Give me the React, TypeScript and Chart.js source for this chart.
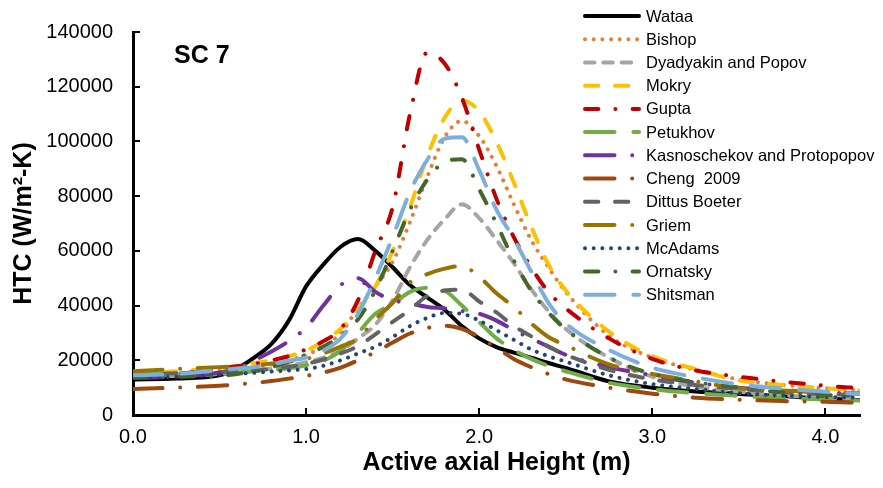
import { useEffect, useRef } from 'react';
import { Chart, registerables } from 'chart.js';

Chart.register(...registerables);

const FONT = '"Liberation Sans", Arial, Helvetica, sans-serif';

// Active axial height (m)
const X = [0, 0.25, 0.5, 0.6, 0.7, 0.8, 0.9, 1.0, 1.1, 1.2, 1.3, 1.4, 1.5, 1.6, 1.7, 1.8, 1.9, 2.0, 2.1, 2.2, 2.3, 2.4, 2.5, 2.75, 3.0, 3.25, 3.5, 3.75, 4.0, 4.2];

// HTC (W/m²-K) per correlation
const WATAA = [13000, 13300, 14500, 17000, 21000, 26000, 34500, 47000, 55000, 61500, 64300, 60000, 54000, 47500, 43000, 38500, 32500, 28000, 24800, 22800, 21000, 19000, 17200, 12300, 10000, 8600, 7700, 6900, 5900, 5500];
const BISHOP = [14500, 15000, 16200, 16800, 17500, 18500, 20000, 22000, 25000, 30000, 39000, 47000, 56000, 70500, 87000, 101500, 107500, 102000, 91000, 77000, 64000, 54000, 45000, 29000, 21000, 16500, 13000, 11000, 9800, 9000];
const DYADYAKIN = [14000, 14300, 15000, 15500, 16200, 17000, 18000, 19300, 21000, 23500, 28000, 33000, 42000, 54000, 64000, 71500, 77000, 72000, 64000, 55500, 46000, 38000, 31500, 21000, 14000, 10300, 8500, 7200, 6300, 5800];
const MOKRY = [15000, 16000, 17300, 18000, 19000, 20000, 21500, 23500, 27000, 31500, 38500, 47000, 60000, 76000, 94500, 108600, 115000, 111000, 99800, 85000, 69000, 55000, 45500, 30500, 21500, 16800, 12600, 11000, 9800, 8900];
const GUPTA = [14500, 15000, 17000, 17800, 18700, 20000, 21500, 24000, 27000, 31500, 42000, 60000, 76000, 110000, 132500, 128500, 116000, 97000, 79000, 65000, 54000, 45000, 39000, 28000, 20500, 16300, 14000, 12200, 10700, 9800];
const PETUKHOV = [15000, 15000, 15200, 15500, 16000, 16500, 17100, 18200, 19800, 23500, 30000, 37000, 40500, 45000, 46500, 45500, 40000, 34000, 28000, 23800, 20500, 18000, 16000, 11800, 9500, 8000, 7000, 6200, 5700, 5300];
const KASNOSCHEKOV = [13500, 14000, 15500, 17000, 20000, 23200, 27000, 32000, 40000, 47500, 50000, 45000, 42000, 40800, 39500, 39000, 38000, 37000, 34500, 31000, 28000, 25000, 22000, 17500, 14500, 11800, 10000, 9000, 8300, 7700];
const CHENG = [9500, 10000, 10700, 11200, 11700, 12400, 13300, 14300, 15500, 17300, 20000, 23000, 26500, 29800, 31800, 32600, 31500, 28500, 24500, 20500, 17500, 15000, 13000, 10000, 7800, 6300, 5600, 5100, 4800, 4500];
const DITTUS = [14500, 15300, 15800, 16000, 16300, 16800, 17600, 18700, 20300, 22500, 25200, 29500, 34000, 38500, 43500, 45500, 45800, 41500, 37500, 32500, 28800, 25000, 22000, 16500, 13000, 11000, 9500, 8400, 7600, 7300];
const GRIEM = [16000, 16800, 17500, 17900, 18200, 18800, 19500, 20500, 22500, 25000, 28000, 35000, 41000, 48500, 51500, 53500, 54500, 50500, 44500, 39500, 33500, 28500, 25500, 18500, 15000, 12300, 9800, 9000, 8300, 7900];
const MCADAMS = [13500, 14000, 14700, 15100, 15400, 15900, 16300, 16800, 18000, 20000, 22500, 25000, 28500, 32500, 35500, 37300, 37000, 34500, 31000, 27500, 24000, 21500, 19500, 14500, 11300, 9500, 8000, 7100, 6600, 6300];
const ORNATSKY = [13800, 14000, 14300, 15000, 16000, 17500, 19500, 22000, 25000, 29000, 35000, 45500, 60000, 75000, 86000, 92500, 93500, 82500, 70000, 56500, 45500, 37500, 31300, 21000, 15000, 12000, 10000, 8300, 7300, 6900];
const SHITSMAN = [14500, 15000, 16400, 17000, 17500, 18500, 19800, 21000, 23500, 28000, 37000, 50000, 65000, 81500, 93300, 101000, 101500, 89500, 75000, 64500, 52500, 41000, 33500, 23800, 17300, 13800, 11200, 9700, 8500, 7700];

const NAMES = ['Wataa', 'Bishop', 'Dyadyakin and Popov', 'Mokry', 'Gupta', 'Petukhov', 'Kasnoschekov and Protopopov', 'Cheng  2009', 'Dittus Boeter', 'Griem', 'McAdams', 'Ornatsky', 'Shitsman'];
const VALUES = [WATAA, BISHOP, DYADYAKIN, MOKRY, GUPTA, PETUKHOV, KASNOSCHEKOV, CHENG, DITTUS, GRIEM, MCADAMS, ORNATSKY, SHITSMAN];
const COLORS = ['#000000', '#ED7D31', '#A5A5A5', '#FFC000', '#C00000', '#70AD47', '#7030A0', '#9E480E', '#636363', '#997300', '#264478', '#43682B', '#7CAFDD'];

const DOT = [0.01, 8.67];
const SYS_DASH = [9.5, 8.8];
const DASH = [13.4, 16.6];
const DASH_DOT = [13.4, 17, 0.01, 17.2];
const LONG_DASH = [29.5, 18.9];
const LONG_DASH_DOT = [29.5, 17.7, 0.01, 17.7];
const DASHES = [[], DOT, SYS_DASH, DASH, DASH_DOT, LONG_DASH, LONG_DASH_DOT, LONG_DASH_DOT, DASH, LONG_DASH_DOT, DOT, DASH_DOT, LONG_DASH];

const X_TICKS = [1, 2, 3, 4];
const Y_TICKS = [20000, 40000, 60000, 80000, 100000, 120000, 140000];

const overlayPlugin = {
  id: 'overlay',
  afterDraw(chart: any) {
    const ctx = chart.ctx as CanvasRenderingContext2D;
    const xs = chart.scales.x;
    const ys = chart.scales.y;
    const area = chart.chartArea;
    ctx.save();
    // inward tick marks
    ctx.strokeStyle = '#000';
    ctx.lineWidth = 2;
    ctx.setLineDash([]);
    for (const v of Y_TICKS) {
      const py = Math.round(ys.getPixelForValue(v));
      ctx.beginPath();
      ctx.moveTo(area.left, py);
      ctx.lineTo(area.left + 7, py);
      ctx.stroke();
    }
    for (const v of X_TICKS) {
      const px = Math.round(xs.getPixelForValue(v));
      ctx.beginPath();
      ctx.moveTo(px, area.bottom);
      ctx.lineTo(px, area.bottom - 7);
      ctx.stroke();
    }
    // annotation
    ctx.fillStyle = '#000';
    ctx.font = `bold 25px ${FONT}`;
    ctx.textBaseline = 'alphabetic';
    ctx.textAlign = 'left';
    ctx.fillText('SC 7', 174, 63);
    // legend
    chart.data.datasets.forEach((ds: any, i: number) => {
      const y = 16 + i * 23.22;
      ctx.save();
      ctx.strokeStyle = ds.borderColor;
      ctx.lineWidth = 4;
      ctx.lineCap = 'round';
      ctx.setLineDash(ds.borderDash || []);
      ctx.beginPath();
      ctx.moveTo(585, y);
      ctx.lineTo(639, y);
      ctx.stroke();
      ctx.restore();
      ctx.fillStyle = '#000';
      ctx.font = `16.5px ${FONT}`;
      ctx.textBaseline = 'middle';
      ctx.fillText(ds.label, 646, y + 1);
    });
    ctx.restore();
  },
};

export default function App() {
  const ref = useRef<HTMLCanvasElement | null>(null);
  useEffect(() => {
    if (!ref.current) return;
    const n = NAMES.length;
    const chart = new Chart(ref.current, {
      type: 'line',
      data: {
        labels: X,
        datasets: NAMES.map((name, i) => ({
          label: name,
          data: X.map((x, j) => ({ x, y: VALUES[i][j] })),
          borderColor: COLORS[i],
          backgroundColor: COLORS[i],
          borderWidth: 4,
          borderDash: DASHES[i],
          borderCapStyle: 'round',
          borderJoinStyle: 'round',
          cubicInterpolationMode: 'monotone',
          pointRadius: 0,
          pointHoverRadius: 0,
          fill: false,
          order: n - i,
        })),
      },
      options: {
        responsive: false,
        animation: false,
        events: [],
        layout: { padding: { top: 22, right: 23, left: 0, bottom: 0 } },
        plugins: { legend: { display: false }, tooltip: { enabled: false } },
        scales: {
          x: {
            type: 'linear',
            min: 0,
            max: 4.2,
            grid: { display: false, drawTicks: false },
            border: { display: true, color: '#000', width: 3 },
            afterFit: (s: any) => { s.height = 73; },
            ticks: {
              stepSize: 1,
              includeBounds: false,
              autoSkip: false,
              maxRotation: 0,
              padding: 10,
              color: '#000',
              font: { family: FONT, size: 20 },
              callback: (v: any) => Number(v).toFixed(1),
            },
            title: {
              display: true,
              text: 'Active axial Height (m)',
              color: '#000',
              font: { family: FONT, size: 25, weight: 'bold' },
              padding: { top: 0, bottom: 10 },
            },
          },
          y: {
            type: 'linear',
            min: 0,
            max: 140000,
            grid: { display: false, drawTicks: false },
            border: { display: true, color: '#000', width: 3 },
            afterFit: (s: any) => { s.width = 133; },
            ticks: {
              stepSize: 20000,
              padding: 20,
              color: '#000',
              font: { family: FONT, size: 20 },
              callback: (v: any) => String(v),
            },
            title: {
              display: true,
              text: 'HTC (W/m²-K)',
              color: '#000',
              font: { family: FONT, size: 25, weight: 'bold' },
              padding: { top: 9, bottom: 0 },
            },
          },
        },
      } as any,
      plugins: [overlayPlugin],
    });
    return () => chart.destroy();
  }, []);
  return (
    <div style={{ position: 'fixed', left: 0, top: 0, width: 883, height: 488, background: '#fff' }}>
      <canvas ref={ref} width={883} height={488} style={{ display: 'block', width: 883, height: 488 }} />
    </div>
  );
}
